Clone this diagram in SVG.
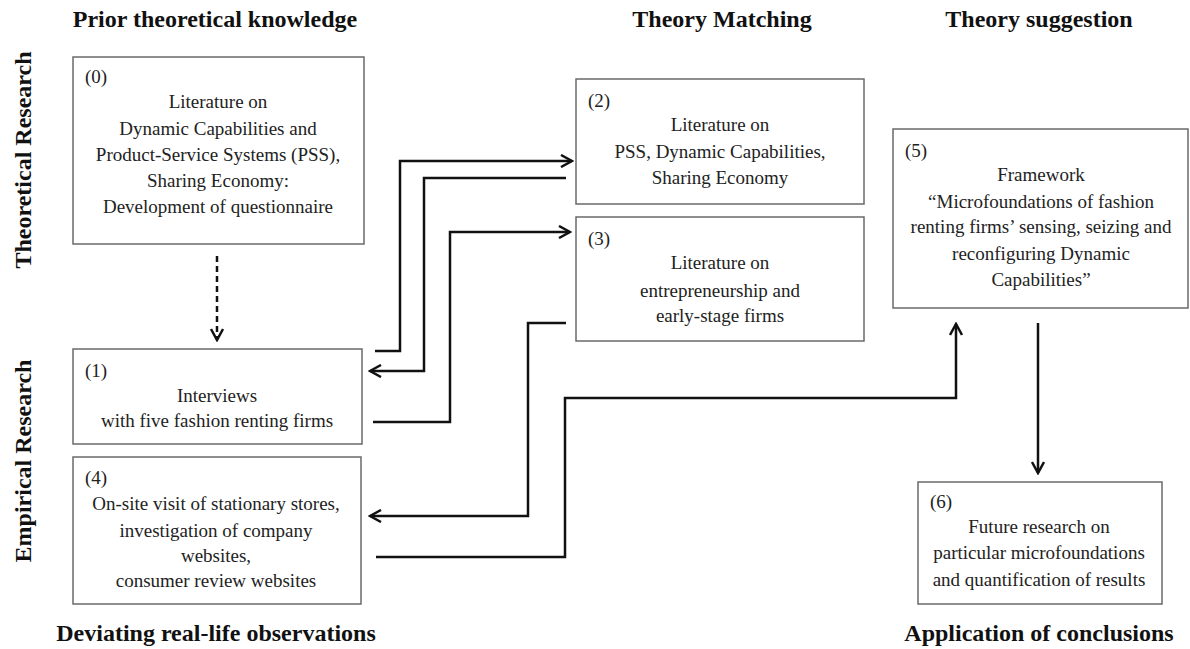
<svg xmlns="http://www.w3.org/2000/svg" width="1190" height="649" viewBox="0 0 1190 649">
<style>
.box{fill:#fff;stroke:#6a6a6a;stroke-width:1.5}
.t{font-family:"Liberation Serif","Times New Roman",serif;font-size:19px;fill:#222;text-anchor:middle}
.n{font-family:"Liberation Serif","Times New Roman",serif;font-size:19px;fill:#222}
.h{font-family:"Liberation Serif","Times New Roman",serif;font-size:24px;font-weight:bold;fill:#111;text-anchor:middle}
.c{fill:none;stroke:#111;stroke-width:2.5}
</style>
<defs>
<marker id="ah" viewBox="0 0 14 14" refX="12" refY="7" markerWidth="14" markerHeight="14" markerUnits="userSpaceOnUse" orient="auto">
<path d="M1,1 L12,7 L1,13" fill="none" stroke="#111" stroke-width="2.5"/>
</marker>
</defs>
<g id="headers">
<text class="h" x="215" y="27">Prior theoretical knowledge</text>
<text class="h" x="722" y="27">Theory Matching</text>
<text class="h" x="1039" y="27">Theory suggestion</text>
<text class="h" x="216" y="641">Deviating real-life observations</text>
<text class="h" x="1039" y="641">Application of conclusions</text>
<text class="h" transform="translate(31,160) rotate(-90)">Theoretical Research</text>
<text class="h" transform="translate(31,461) rotate(-90)">Empirical Research</text>
</g>
<g id="node0">
<rect class="box" x="73" y="57" width="291" height="187"/>
<text class="n" x="85" y="83">(0)</text>
<text class="t" x="218" y="108">Literature on</text>
<text class="t" x="218" y="135">Dynamic Capabilities and</text>
<text class="t" x="218" y="161">Product-Service Systems (PSS),</text>
<text class="t" x="218" y="187">Sharing Economy:</text>
<text class="t" x="218" y="213">Development of questionnaire</text>
</g>
<g id="node1">
<rect class="box" x="73" y="349" width="289" height="95"/>
<text class="n" x="85" y="377">(1)</text>
<text class="t" x="217" y="402">Interviews</text>
<text class="t" x="217" y="427"> with five fashion renting firms</text>
</g>
<g id="node4">
<rect class="box" x="73" y="457" width="288" height="147"/>
<text class="n" x="85" y="484">(4)</text>
<text class="t" x="216" y="510">On-site visit of stationary stores,</text>
<text class="t" x="216" y="537">investigation of company</text>
<text class="t" x="216" y="562">websites,</text>
<text class="t" x="216" y="587">consumer review websites</text>
</g>
<g id="node2">
<rect class="box" x="576" y="79" width="288" height="125"/>
<text class="n" x="588" y="107">(2)</text>
<text class="t" x="720" y="131">Literature on</text>
<text class="t" x="720" y="158">PSS, Dynamic Capabilities,</text>
<text class="t" x="720" y="184">Sharing Economy</text>
</g>
<g id="node3">
<rect class="box" x="576" y="217" width="288" height="124"/>
<text class="n" x="588" y="245">(3)</text>
<text class="t" x="720" y="269">Literature on</text>
<text class="t" x="720" y="297">entrepreneurship and</text>
<text class="t" x="720" y="322">early-stage firms</text>
</g>
<g id="node5">
<rect class="box" x="893" y="129" width="295" height="179"/>
<text class="n" x="905" y="157">(5)</text>
<text class="t" x="1041" y="181">Framework</text>
<text class="t" x="1041" y="208">“Microfoundations of fashion</text>
<text class="t" x="1041" y="233">renting firms’ sensing, seizing and</text>
<text class="t" x="1041" y="260">reconfiguring Dynamic</text>
<text class="t" x="1041" y="286">Capabilities”</text>
</g>
<g id="node6">
<rect class="box" x="918" y="482" width="244" height="122"/>
<text class="n" x="930" y="508">(6)</text>
<text class="t" x="1039" y="533">Future research on</text>
<text class="t" x="1039" y="559">particular microfoundations</text>
<text class="t" x="1039" y="586">and quantification of results</text>
</g>
<g id="connectors">
<path class="c" d="M217,256 V340" stroke-dasharray="6,4" marker-end="url(#ah)"/>
<path class="c" d="M375,351 H400 V161 H572" marker-end="url(#ah)"/>
<path class="c" d="M566,178 H424 V371 H370" marker-end="url(#ah)"/>
<path class="c" d="M373,422 H450 V232 H570" marker-end="url(#ah)"/>
<path class="c" d="M566,323 H528 V516 H370" marker-end="url(#ah)"/>
<path class="c" d="M376,557 H565 V398 H956 V324" marker-end="url(#ah)"/>
<path class="c" d="M1038,323 V473" marker-end="url(#ah)"/>
</g>
</svg>
